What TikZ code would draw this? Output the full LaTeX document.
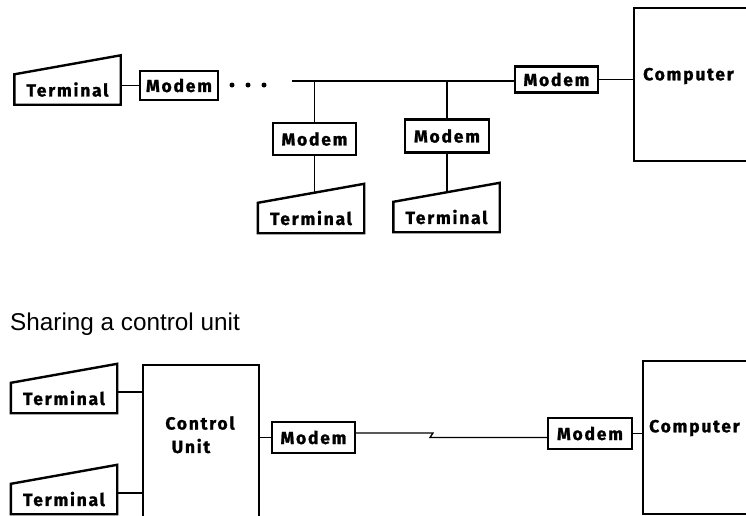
\documentclass[tikz,border=0pt]{standalone}
\usepackage{fontspec}
\setmainfont{Liberation Sans}
\newfontfamily\chic[LetterSpace=10, BoldFeatures={FakeBold=1.2}]{Fira Sans}
\newcommand\labfont{\chic\bfseries\fontsize{17.5}{20}\selectfont}
\usetikzlibrary{calc}
\begin{document}
\begin{tikzpicture}[x=1pt,y=-1pt,
  box/.style={draw, line width=2.4pt, inner sep=0pt, font=\labfont},
  modem/.style={box, minimum width=83pt, minimum height=31pt},
  term/.style={inner sep=0pt, minimum width=106pt, minimum height=30pt, font=\labfont},
  termline/.style={line width=2.4pt, line join=miter},
  big/.style={draw, line width=2.4pt, inner sep=0pt, anchor=north west},
  lbl/.style={inner sep=0pt, font=\labfont},
  conn/.style={line width=1.3pt},
  dotn/.style={circle, fill, inner sep=0pt, minimum size=5pt}
]
\useasboundingbox (0,0) rectangle (746,515);
\fill[white] (0,0) rectangle (746,515);
\clip (0,0) rectangle (746,515);

% ---------- top: modems on a shared line ----------
\node[term] (t1) at (67.5,89.5) {Terminal};
\node[modem, minimum width=78pt, minimum height=29pt] (m1) at (179,85.5) {Modem};
\node[dotn] (d1) at (232,85) {};
\node[dotn] (d2) at (248,85) {};
\node[dotn] (d3) at (264,85) {};
\coordinate (busL) at (292,81);
\node[modem, minimum height=26pt] (m4) at (556.5,79.5) {Modem};
\node[modem, minimum height=32pt] (m2) at (314.5,139) {Modem};
\node[modem, minimum width=84pt, minimum height=33pt] (m3) at (447,136) {Modem};
\node[term] (t2) at (311,218) {Terminal};
\node[term] (t3) at (446.5,217) {Terminal};
\node[big, minimum width=140pt, minimum height=153pt] (c1) at (633,7) {};
\node[lbl, anchor=west] (c1t) at (643,76) {Computer};

% ---------- bottom: sharing a control unit ----------
\node[inner sep=0pt, anchor=base west, font=\fontsize{24.3}{29}\selectfont] (ttl) at (10,330) {Sharing a control unit};
\node[term] (t4) at (64,398) {Terminal};
\node[term] (t5) at (64,499) {Terminal};
\node[big, minimum width=116pt, minimum height=170pt] (cu) at (142,364) {};
\node[lbl] (cut1) at (200,423) {Control};
\node[lbl] (cut2) at (191,446) {Unit};
\node[modem] (m5) at (313.5,437.5) {Modem};
\node[modem, minimum width=84pt] (m6) at (590,433.5) {Modem};
\node[big, minimum width=140pt, minimum height=153pt] (c2) at (642,360) {};
\node[lbl, anchor=west] (c2t) at (649,428) {Computer};

% terminal outlines
\foreach \t in {t1,t2,t3,t4,t5}
  \draw[termline] (\t.south west) -- (\t.north west) -- ([yshift=19pt]\t.north east) -- (\t.south east) -- cycle;

% connectors (top)
\draw[conn] (m1.west) -- (m1.west -| t1.east);
\draw[conn] (busL) -- (busL -| m4.west);
\draw[conn] (m4.east) -- (m4.east -| c1.west);
\draw[conn] (busL -| m2.north) -- (m2.north);
\draw[conn] (busL -| m3.north) -- (m3.north);
\draw[conn] let \p1=(m2.south), \p2=(t2.north west), \p3=(t2.north east) in
  (m2.south) -- (\x1, {\y2 + 19pt*(\x1-\x2)/(\x3-\x2)});
\draw[conn] let \p1=(m3.south), \p2=(t3.north west), \p3=(t3.north east) in
  (m3.south) -- (\x1, {\y2 + 19pt*(\x1-\x2)/(\x3-\x2)});

% connectors (bottom)
\coordinate (t4c) at ($(t4.north east)!0.3!(t4.south east)$);
\coordinate (t5c) at ($(t5.north east)!0.3!(t5.south east)$);
\draw[conn] (t4c) -- (t4c -| cu.west);
\draw[conn] (t5c) -- (t5c -| cu.west);
\draw[conn] (m5.west) -- (m5.west -| cu.east);
\coordinate (zA) at (433,433);
\coordinate (zB) at (430,437.5);
\draw[conn] (m5.east |- zA) -- (zA) -- (zB) -- (zB -| m6.west);
\draw[conn] (m6.east) -- (m6.east -| c2.west);
\end{tikzpicture}
\end{document}
